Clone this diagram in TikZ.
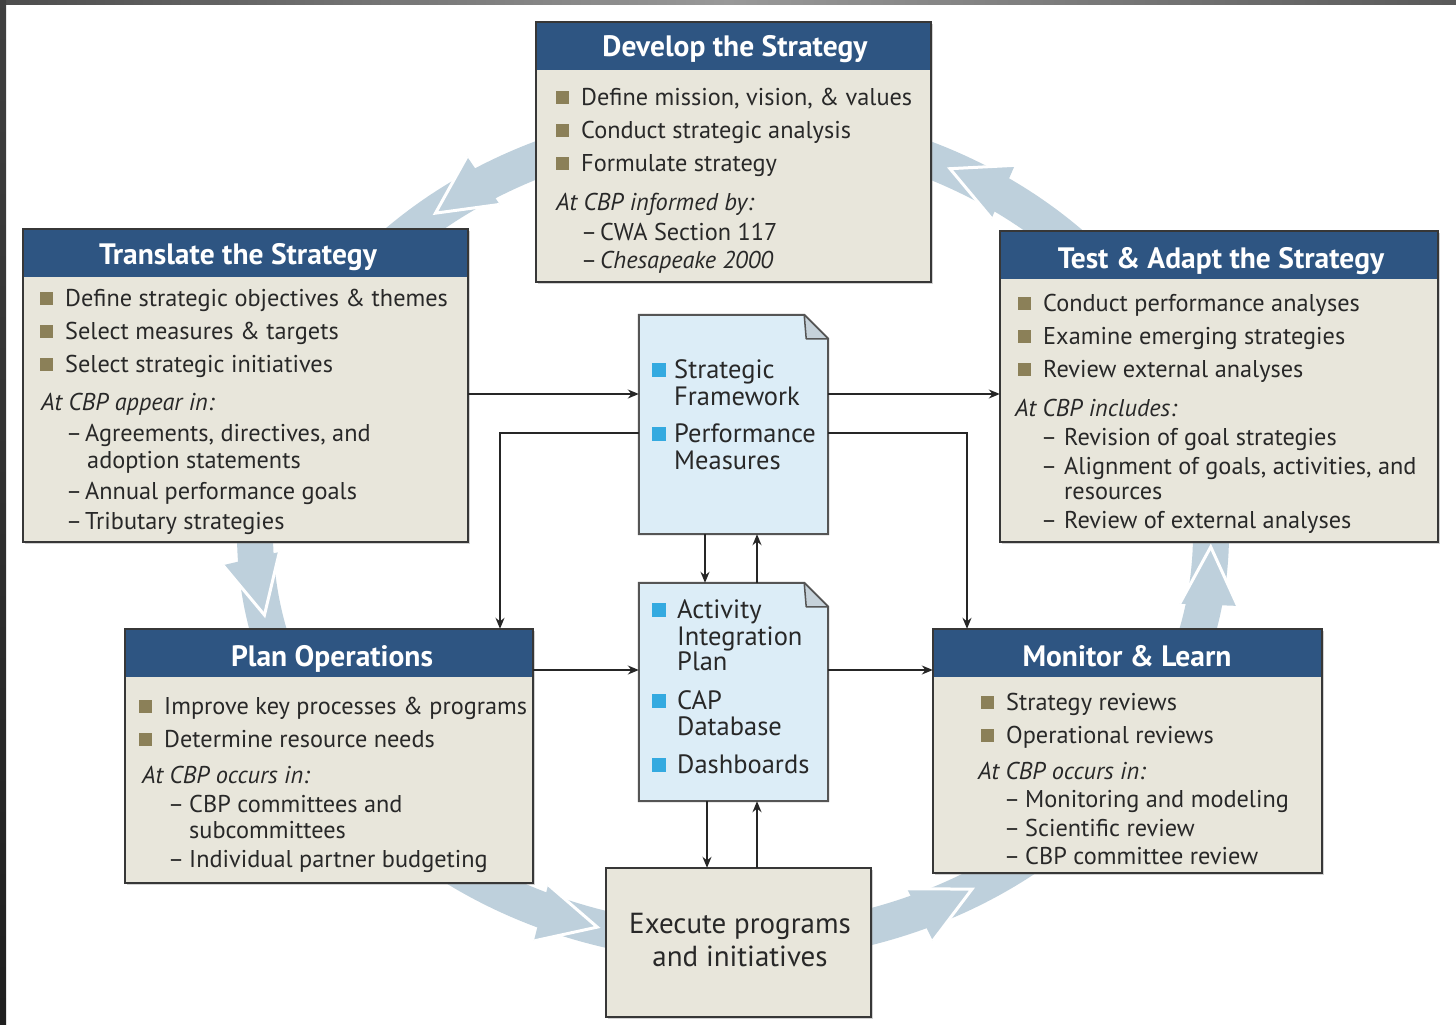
\documentclass[tikz,border=0pt]{standalone}
\usepackage{fontspec}
\setmainfont{PT Sans}
\usetikzlibrary{calc,arrows.meta,shadows}
\definecolor{hdr}{RGB}{46,85,130}
\definecolor{beige}{RGB}{232,230,219}
\definecolor{bulc}{RGB}{139,128,88}
\definecolor{docfill}{RGB}{220,237,247}
\definecolor{docbul}{RGB}{52,170,224}
\definecolor{ringc}{RGB}{190,208,220}
\definecolor{boxline}{RGB}{55,55,55}
\definecolor{txtc}{RGB}{40,40,40}
\definecolor{foldc}{RGB}{198,210,218}
\tikzset{
  txt/.style={inner sep=0pt, anchor=base west, text=txtc, font=\fontsize{24.3}{27}\selectfont},
  doctxt/.style={inner sep=0pt, anchor=base west, text=txtc, font=\fontsize{26.5}{29}\selectfont},
  ttl/.style={inner sep=0pt, anchor=base, text=white, font=\fontsize{29.5}{32}\selectfont\bfseries},
  boxst/.style={fill=beige, draw=none, inner sep=0pt, drop shadow={shadow xshift=2pt, shadow yshift=-2pt, opacity=0.35}},
  docst/.style={draw=none, inner sep=0pt},
  border/.style={draw=boxline, line width=2pt},
  conn/.style={draw=black!85, line width=1.5pt, -{Stealth[length=11pt,width=9pt]}},
}
\newcommand\ringhead[2]{%
  \pgfmathsetmacro\rhx{733+478*cos(#2)}%
  \pgfmathsetmacro\rhy{534+410*sin(#2)}%
  \pgfmathsetmacro\rha{1.1659*sin(#2)}%
  \pgfmathsetmacro\rhb{-cos(#2)}%
  \pgfmathsetmacro\rhn{sqrt(\rha*\rha+\rhb*\rhb)}%
  \pgfmathsetmacro\rhu{\rha/\rhn}%
  \pgfmathsetmacro\rhv{\rhb/\rhn}%
  \coordinate (#1) at (\rhx,\rhy);
  \coordinate (#1a) at ({\rhx-58*\rhu-29*\rhv},{\rhy-58*\rhv+29*\rhu});
  \coordinate (#1b) at ({\rhx-58*\rhu+29*\rhv},{\rhy-58*\rhv-29*\rhu});
  \fill[ringc] (#1a) -- (#1) -- (#1b) -- cycle;
  \draw[white, line width=3pt, line join=miter] (#1a) -- (#1) -- (#1b);
}
\newcommand\sqbul[4]{% name, bullet x, baseline, text
  \fill[bulc] (#2,#3-14) rectangle ++(13,13);
  \node[txt] (#1) at (#2+25,#3) {#4};}
\newcommand\dobul[5]{% name, bullet x, text x, baseline, text
  \fill[docbul] (#2,#4-15) rectangle ++(14,14);
  \node[doctxt] (#1) at (#3,#4) {#5};}
\newcommand\dline[5]{% name, dash x, text x, baseline, text
  \node[txt] (#1d) at (#2,#4) {–};
  \node[txt] (#1) at (#3,#4) {#5};}
\begin{document}
\begin{tikzpicture}[x=1pt,y=-1pt]
\useasboundingbox (0,0) rectangle (1456,1025);
\fill[white] (0,0) rectangle (1456,1025);

% ring of big arrows
\draw[ringc, line width=36pt] (733,534) ellipse [x radius=478, y radius=410];
\ringhead{h1}{231.5}
\ringhead{h2}{168.6}
\ringhead{h3}{106.5}
\ringhead{h4}{60}
\ringhead{h5}{1.8}
\ringhead{h6}{297}

% boxes
\node[boxst, minimum width=395pt, minimum height=260pt] (dev) at (733.5,152) {};
\node[boxst, minimum width=445pt, minimum height=313pt] (trans) at (245.5,385.5) {};
\node[boxst, minimum width=438pt, minimum height=311pt] (test) at (1219,386.5) {};
\node[boxst, minimum width=408pt, minimum height=254pt] (plan) at (329,756) {};
\node[boxst, minimum width=389pt, minimum height=244pt] (mon) at (1127.5,751) {};
\node[boxst, minimum width=265pt, minimum height=149pt] (exec) at (738.5,942.5) {};

\foreach \b in {dev,trans,test,plan,mon}{
  \fill[hdr] (\b.north west) rectangle ($(\b.north east)+(0,48)$);
}
\foreach \b in {dev,trans,test,plan,mon,exec}{
  \draw[border] (\b.north west) rectangle (\b.south east);
}

% titles
\node[ttl] (devT) at (735,57) {Develop the Strategy};
\node[ttl] (transT) at (238,264) {Translate the Strategy};
\node[ttl] (testT) at (1221,268) {Test \& Adapt the Strategy};
\node[ttl] (planT) at (332,666) {Plan Operations};
\node[ttl] (monT) at (1127,666) {Monitor \& Learn};

% Develop
\sqbul{dv1}{556}{105}{Define mission, vision, \& values}
\sqbul{dv2}{556}{138}{Conduct strategic analysis}
\sqbul{dv3}{556}{171}{Formulate strategy}
\node[txt] (dv4) at (556,210) {\itshape At CBP informed by:};
\dline{dv5}{581}{600}{240}{CWA Section 117}
\dline{dv6}{581}{600}{268}{\itshape Chesapeake 2000}

% Translate
\sqbul{tr1}{40}{306}{Define strategic objectives \& themes}
\sqbul{tr2}{40}{339}{Select measures \& targets}
\sqbul{tr3}{40}{372}{Select strategic initiatives}
\node[txt] (tr4) at (41,410) {\itshape At CBP appear in:};
\dline{tr5}{66}{85}{441}{Agreements, directives, and}
\node[txt] (tr6) at (87,468) {adoption statements};
\dline{tr7}{66}{85}{499}{Annual performance goals}
\dline{tr8}{66}{85}{529}{Tributary strategies}

% Test & Adapt
\sqbul{ta1}{1018}{311}{Conduct performance analyses}
\sqbul{ta2}{1018}{344}{Examine emerging strategies}
\sqbul{ta3}{1018}{377}{Review external analyses}
\node[txt] (ta4) at (1015,416) {\itshape At CBP includes:};
\dline{ta5}{1041}{1064}{445}{Revision of goal strategies}
\dline{ta6}{1041}{1064}{474}{Alignment of goals, activities, and}
\node[txt] (ta7) at (1064,499) {resources};
\dline{ta8}{1041}{1064}{528}{Review of external analyses}

% Plan Operations
\sqbul{po1}{139}{714}{Improve key processes \& programs}
\sqbul{po2}{139}{747}{Determine resource needs}
\node[txt] (po3) at (142,783) {\itshape At CBP occurs in:};
\dline{po4}{168}{189}{812}{CBP committees and}
\node[txt] (po5) at (189,838) {subcommittees};
\dline{po6}{168}{189}{867}{Individual partner budgeting}

% Monitor & Learn
\sqbul{ml1}{981}{710}{Strategy reviews}
\sqbul{ml2}{981}{743}{Operational reviews}
\node[txt] (ml3) at (978,779) {\itshape At CBP occurs in:};
\dline{ml4}{1004}{1025}{807}{Monitoring and modeling}
\dline{ml5}{1004}{1025}{836}{Scientific review}
\dline{ml6}{1004}{1025}{864}{CBP committee review}

% Execute
\node[inner sep=0pt, anchor=base, text=txtc, font=\fontsize{29}{32}\selectfont] (ex1) at (740,933) {Execute programs};
\node[inner sep=0pt, anchor=base, text=txtc, font=\fontsize{29}{32}\selectfont] (ex2) at (740,966) {and initiatives};

% documents
\node[docst, minimum width=189pt, minimum height=219pt] (doc1) at (733.5,424.5) {};
\node[docst, minimum width=189pt, minimum height=218pt] (doc2) at (733.5,692) {};
\foreach \d in {doc1,doc2}{
  \draw[fill=docfill, draw=boxline!85, line width=2pt, line join=miter]
    (\d.north west) -- ($(\d.north east)+(-24,0)$) -- ($(\d.north east)+(0,24)$) -- (\d.south east) -- (\d.south west) -- cycle;
  \draw[fill=foldc, draw=boxline!85, line width=1.5pt, line join=round]
    ($(\d.north east)+(-24,0)$) -- ($(\d.north east)+(-22,24)$) -- ($(\d.north east)+(0,24)$) -- cycle;
}
\dobul{sf1}{652}{674}{378}{Strategic}
\node[doctxt] (sf2) at (674,405) {Framework};
\dobul{pm1}{652}{674}{442}{Performance}
\node[doctxt] (pm2) at (674,469) {Measures};
\dobul{ai1}{652}{677}{618}{Activity}
\node[doctxt] (ai2) at (677,645) {Integration};
\node[doctxt] (ai3) at (677,670) {Plan};
\dobul{cp1}{652}{677}{709}{CAP}
\node[doctxt] (cp2) at (677,735) {Database};
\dobul{db1}{652}{677}{773}{Dashboards}

% connectors
\coordinate (p1) at ([yshift=30.5pt]doc1.west);
\coordinate (p2) at ([yshift=-8.5pt]doc1.west);
\coordinate (p3) at ([yshift=30.5pt]doc1.east);
\coordinate (p4) at ([yshift=-8.5pt]doc1.east);
\coordinate (p5) at ([yshift=22pt]doc2.west);
\coordinate (p6) at ([yshift=22pt]doc2.east);
\coordinate (r1) at ([xshift=-28.5pt]doc1.south);
\coordinate (r2) at ([xshift=23.5pt]doc1.south);
\coordinate (q1) at ([xshift=-26.5pt]doc2.south);
\coordinate (q2) at ([xshift=23.5pt]doc2.south);
\draw[conn] (trans.east |- p1) -- (p1);
\draw[conn] (p3) -- (test.west |- p3);
\draw[conn] (p2) -| ([xshift=171pt]plan.north);
\draw[conn] (p4) -| ([xshift=-160.5pt]mon.north);
\draw[conn] (plan.east |- p5) -- (p5);
\draw[conn] (p6) -- (mon.west |- p6);
\draw[conn] (r1) -- (r1 |- doc2.north);
\draw[conn] (r2 |- doc2.north) -- (r2);
\draw[conn] (q1) -- (q1 |- exec.north);
\draw[conn] (q2 |- exec.north) -- (q2);

% frame strips
\shade[left color=black!70, right color=black!65, middle color=black!40] (0,0) rectangle (1456,5);
\shade[top color=black!75, bottom color=black!88] (0,0) rectangle (6,1025);
\end{tikzpicture}
\end{document}
